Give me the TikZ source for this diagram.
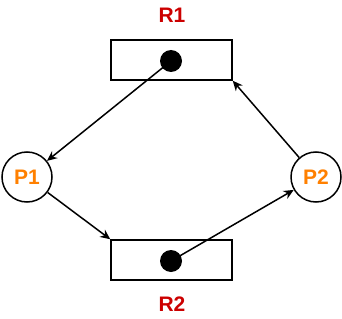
\documentclass[tikz,border=0pt]{standalone}
\usepackage{fontspec}
\setmainfont{Liberation Sans}
\usetikzlibrary{arrows.meta}
\definecolor{rlab}{HTML}{CC0000}
\definecolor{plab}{HTML}{FF8000}
\begin{document}
\begin{tikzpicture}[x=1pt,y=-1pt,
  res/.style={draw,line width=1.5pt,minimum width=121pt,minimum height=40pt,inner sep=0pt},
  tok/.style={circle,fill=black,minimum size=22pt,inner sep=0pt},
  proc/.style={draw,circle,line width=1.5pt,minimum size=50pt,inner sep=0pt,text=plab,font=\fontsize{21}{21}\selectfont\bfseries},
  lab/.style={text=rlab,font=\fontsize{21}{21}\selectfont\bfseries,inner sep=0pt},
  arr/.style={line width=1.5pt,-{Stealth[length=10pt,width=9pt]}}]
\useasboundingbox (0,0) rectangle (342,318);
\node[res] (R1) at (171.5,60) {};
\node[tok] (T1) at (171,61) {};
\node[res] (R2) at (171.5,260) {};
\node[tok] (T2) at (171,261) {};
\node[lab] (L1) at (172,15) {R1};
\node[lab] (L2) at (172,304) {R2};
\node[proc] (P1) at (27,177) {P1};
\node[proc] (P2) at (316,177) {P2};
\draw[arr] (T1.center) -- (P1);
\draw[arr] (P1) -- (R2.north west);
\draw[arr] (T2.center) -- (P2);
\draw[arr] (P2) -- (R1.south east);
\end{tikzpicture}
\end{document}
